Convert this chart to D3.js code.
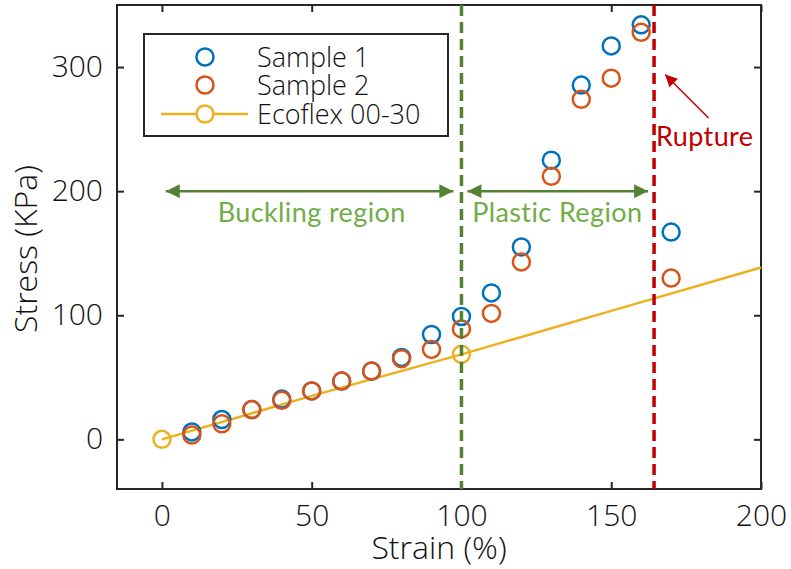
<html>
<script src='https://d3js.org/d3.v7.min.js'></script>
<style>
body {margin: 0; background: white;}
.tick text {font-family: "Open Sans", sans-serif; font-size: 30px; font-weight: 300; fill: #111;}
</style>
<body onload='init()'>
<svg width=791 height=569></svg>
<script>
// strain (%) for both samples
var strain = [10, 20, 30, 40, 50, 60, 70, 80, 90, 100, 110, 120, 130, 140, 150, 160, 170];
var sample1 = [6, 16, 24, 32.5, 39, 47, 55, 66, 84.5, 99, 118, 155, 225, 285.5, 317, 334, 167];
var sample2 = [3.5, 12.5, 24, 31.5, 39, 47, 55, 65, 72.5, 89, 101.5, 143, 212, 274, 291, 328, 130];
// Ecoflex 00-30 curve, markers only at 0 and 100
var ecoStrain = [0, 50, 100, 150, 200];
var ecoStress = [0, 35, 68.5, 103.5, 138.5];
var ecoMarkStrain = [0, 100];
var ecoMarkStress = [0, 68.5];
var xTicks = [0, 50, 100, 150, 200];
var yTicks = [0, 100, 200, 300];
var legendNames = ["Sample 1", "Sample 2", "Ecoflex 00-30"];
var buckling = 100, rupture = 164.3;

function init() {
var left = 117, right = 761, top = 5, bottom = 489;
var svg = d3.select("svg");

var x = d3.scaleLinear().domain([-15, 200]).range([left, right]);
var y = d3.scaleLinear().domain([-40, 350]).range([bottom, top]);

var blue = "#0072BD", orange = "#D95319", yellow = "#EDB120",
    green = "#548235", lightGreen = "#70AD47", red = "#C00000", ink = "#262626", txt = "#111";

// axes, MATLAB style box with inner ticks
svg.append("g").attr("transform", "translate(0," + bottom + ")")
   .call(d3.axisBottom(x).tickValues(xTicks).tickSizeInner(-7).tickSizeOuter(0).tickPadding(0))
   .call(g => g.selectAll("text").attr("dy", null).attr("y", 37));
svg.append("g").attr("transform", "translate(0," + top + ")")
   .call(d3.axisTop(x).tickValues(xTicks).tickSizeInner(-7).tickSizeOuter(0).tickFormat(""));
svg.append("g").attr("transform", "translate(" + left + ",0)")
   .call(d3.axisLeft(y).tickValues(yTicks).tickSizeInner(-7).tickSizeOuter(0).tickPadding(14));
svg.append("g").attr("transform", "translate(" + right + ",0)")
   .call(d3.axisRight(y).tickValues(yTicks).tickSizeInner(-7).tickSizeOuter(0).tickFormat(""));
svg.selectAll(".domain").remove();
svg.selectAll(".tick line").attr("stroke", ink).attr("stroke-width", 2);
svg.append("rect").attr("x", left).attr("y", top).attr("width", right - left).attr("height", bottom - top)
   .attr("fill", "none").attr("stroke", ink).attr("stroke-width", 2);

svg.append("text").attr("x", 439).attr("y", 559)
   .attr("text-anchor", "middle").attr("font-family", "Open Sans").attr("font-weight", 300)
   .attr("font-size", 32).attr("fill", txt).text("Strain (%)");
svg.append("text").attr("transform", "translate(37,249) rotate(-90)")
   .attr("text-anchor", "middle").attr("font-family", "Open Sans").attr("font-weight", 300)
   .attr("font-size", 32).attr("fill", txt).text("Stress (KPa)");

var plot = svg.append("g");

// Ecoflex line
plot.append("path").datum(ecoStrain.map((s, i) => [s, ecoStress[i]]))
   .attr("d", d3.line().x(d => x(d[0])).y(d => y(d[1])))
   .attr("fill", "none").attr("stroke", yellow).attr("stroke-width", 2.5);

function markers(xs, ys, col) {
  plot.append("g").selectAll("circle").data(xs).enter().append("circle")
     .attr("cx", d => x(d)).attr("cy", (d, i) => y(ys[i])).attr("r", 8.5)
     .attr("fill", "none").attr("stroke", col).attr("stroke-width", 2.5);
}
markers(strain, sample1, blue);
markers(strain, sample2, orange);
markers(ecoMarkStrain, ecoMarkStress, yellow);

// vertical region lines
plot.append("line").attr("x1", x(buckling)).attr("x2", x(buckling)).attr("y1", top).attr("y2", bottom)
   .attr("stroke", green).attr("stroke-width", 3.5).attr("stroke-dasharray", "11,6");
plot.append("line").attr("x1", x(rupture)).attr("x2", x(rupture)).attr("y1", top).attr("y2", bottom)
   .attr("stroke", red).attr("stroke-width", 3.5).attr("stroke-dasharray", "11,6");

// arrow heads
var defs = svg.append("defs");
function head(id, col, w, h) {
  defs.append("marker").attr("id", id).attr("viewBox", "0 0 10 10").attr("refX", 10).attr("refY", 5)
     .attr("markerUnits", "userSpaceOnUse").attr("markerWidth", w).attr("markerHeight", h).attr("orient", "auto-start-reverse")
     .append("path").attr("d", "M0,0 L10,5 L0,10 Z").attr("fill", col);
}
head("ga", green, 16, 14);
head("ra", red, 15, 12);

function dbl(a, b) {
  plot.append("line").attr("x1", x(a)).attr("x2", x(b)).attr("y1", y(200)).attr("y2", y(200))
     .attr("stroke", green).attr("stroke-width", 2.5)
     .attr("marker-start", "url(#ga)").attr("marker-end", "url(#ga)");
}
dbl(1.3, 97.3);
dbl(102, 162.3);

plot.append("text").attr("x", x(50)).attr("y", y(200) + 31).attr("text-anchor", "middle")
   .attr("font-family", "Lato").attr("font-size", 27).attr("letter-spacing", 0.4)
   .attr("fill", lightGreen).text("Buckling region");
plot.append("text").attr("x", x(132)).attr("y", y(200) + 31).attr("text-anchor", "middle")
   .attr("font-family", "Lato").attr("font-size", 27).attr("letter-spacing", 0.4)
   .attr("fill", lightGreen).text("Plastic Region");

plot.append("line").attr("x1", x(182.5)).attr("y1", y(259)).attr("x2", x(168)).attr("y2", y(294))
   .attr("stroke", red).attr("stroke-width", 1.5).attr("marker-end", "url(#ra)");
plot.append("text").attr("x", 656).attr("y", 146).attr("font-family", "Lato").attr("font-size", 27)
   .attr("letter-spacing", 0.4).attr("fill", red).text("Rupture");

// legend
var lg = svg.append("g");
lg.append("rect").attr("x", 144).attr("y", 34).attr("width", 304).attr("height", 102)
   .attr("fill", "white").attr("stroke", ink).attr("stroke-width", 2);
var cols = [blue, orange, yellow];
var ly = [57, 85, 114];
legendNames.forEach(function(n, i) {
  if (i == 2) lg.append("line").attr("x1", 161).attr("x2", 248).attr("y1", ly[i]).attr("y2", ly[i])
     .attr("stroke", yellow).attr("stroke-width", 2.5);
  lg.append("circle").attr("cx", 205).attr("cy", ly[i]).attr("r", 8.5)
     .attr("fill", i == 2 ? "white" : "none").attr("stroke", cols[i]).attr("stroke-width", 2.5);
  lg.append("text").attr("x", 257).attr("y", ly[i]).attr("dy", "0.36em")
     .attr("font-family", "Open Sans").attr("font-weight", 300).attr("font-size", 27)
     .attr("fill", txt).text(n);
});
}
</script>
</body>
</html>
